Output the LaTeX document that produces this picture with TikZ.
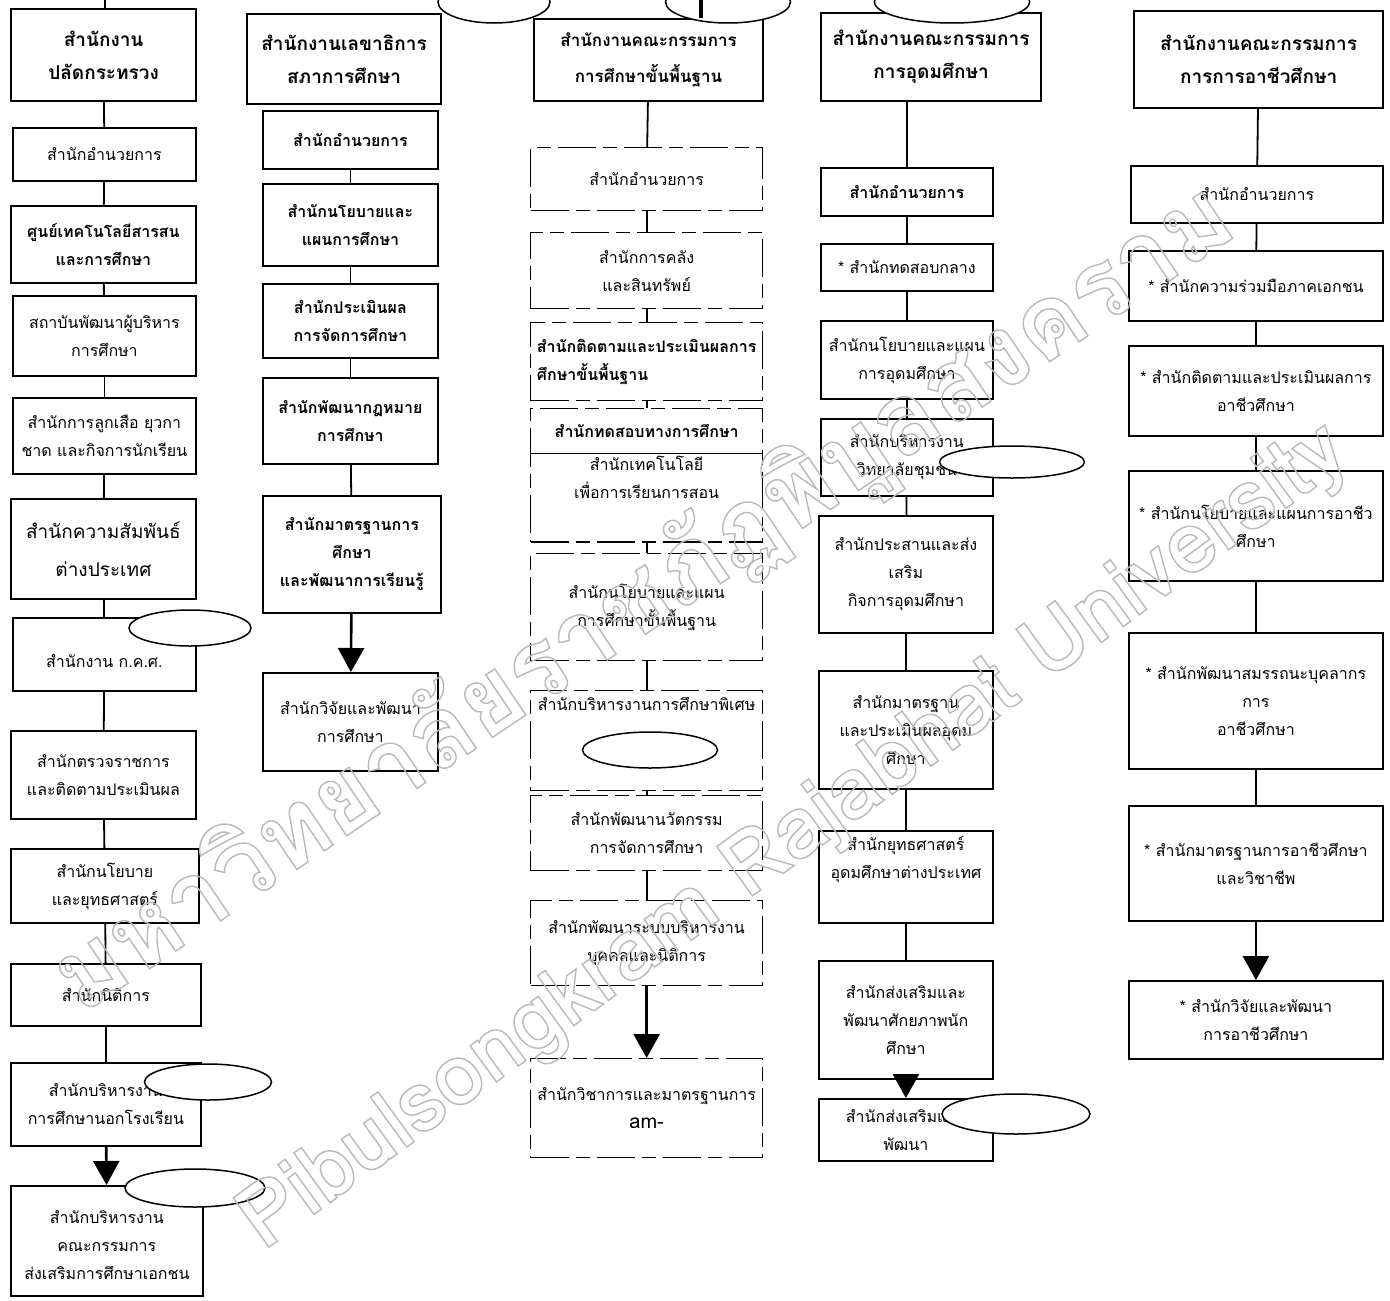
\documentclass[tikz,border=0pt]{standalone}
\usepackage{fontspec}
\setmainfont[Script=Thai]{Loma}
\usepackage{tikz}
\usetikzlibrary{shapes.geometric}
\usetikzlibrary{arrows.meta}
\newcommand{\hollow}[1]{\special{pdf:literal direct q 1 Tr 1.4 w}#1\special{pdf:literal direct Q}}
\tikzstyle{every picture}=[x=1pt,y=-1pt]
\tikzstyle{office}=[rectangle, draw, line width=1.8pt, anchor=north west,
                    inner sep=2pt, align=center, font=\fontsize{16}{28}\selectfont]
\tikzstyle{headbox}=[office, line width=2.2pt, font=\fontsize{19}{33}\selectfont\bfseries]
\tikzstyle{faint}=[office, line width=1.3pt, dash pattern=on 38pt off 7pt on 14pt off 7pt]
\tikzstyle{darktext}=[font=\fontsize{16}{28}\selectfont\bfseries]
\tikzstyle{tagoval}=[ellipse, draw, fill=white, line width=1.5pt, inner sep=0pt]
\tikzstyle{link}=[line width=1.8pt]
\tikzstyle{downarrow}=[line width=2.6pt, -{Triangle[width=26pt,length=24pt]}]
\tikzstyle{wmark}=[text=gray!55, inner sep=0pt]
\tikzset{wh/.style 2 args={minimum width=#1, minimum height=#2}}

\begin{document}
\begin{tikzpicture}
      \path[use as bounding box, fill=white] (0,0) rectangle (1390,1301);

      \node[headbox, wh={185}{92}] (ps) at (10,8) {สำนักงาน\\ปลัดกระทรวง};
      \node[office, wh={183}{53}] (psadmin) at (12,127) {สำนักอำนวยการ};
      \node[office, darktext, wh={185}{77}] (psict) at (10,205) {ศูนย์เทคโนโลยีสารสน\\และการศึกษา};
      \node[office, wh={183}{80}] (psinst) at (12,295) {สถาบันพัฒนาผู้บริหาร\\การศึกษา};
      \node[office, wh={183}{76}] (psscout) at (12,397) {สำนักการลูกเสือ ยุวกา\\ชาด และกิจการนักเรียน};
      \node[office, wh={185}{100}, font=\fontsize{19}{38}\selectfont] (psforeign) at (10,498) {สำนักความสัมพันธ์\\ต่างประเทศ};
      \node[office, wh={183}{73}] (pstc) at (12,617) {\rule{0pt}{26pt}สำนักงาน ก.ค.ศ.};
      \node[office, wh={185}{88}] (psinspect) at (10,730) {สำนักตรวจราชการ\\และติดตามประเมินผล};
      \node[office, wh={188}{74}] (pspolicy) at (10,848) {สำนักนโยบาย\\และยุทธศาสตร์};
      \node[office, wh={190}{62}] (pslegal) at (10,963) {สำนักนิติการ};
      \node[office, wh={190}{83}] (psnonformal) at (10,1062) {สำนักบริหารงาน\\การศึกษานอกโรงเรียน};
      \node[office, wh={192}{110}] (psprivate) at (10,1185) {\rule{0pt}{22pt}สำนักบริหารงาน\\คณะกรรมการ\\ส่งเสริมการศึกษาเอกชน};
      \node[tagoval, minimum width=122, minimum height=36] (pstctag) at (190,628) {};
      \node[tagoval, minimum width=127, minimum height=36] (psnftag) at (208,1082) {};
      \node[tagoval, minimum width=140, minimum height=38] (pspvtag) at (195,1188) {};
      \coordinate (pstop) at (105,0);
	\draw[link] (pstop) -- (pstop |- ps.north);
	\draw[link] (ps) -- (psadmin);
	\draw[link] (psadmin) -- (psict);
	\draw[link] (psict) -- (psinst);
	\draw[link] (psinst) -- (psscout);
	\draw[link] (psscout) -- (psforeign);
	\draw[link] (psforeign) -- (pstc);
	\draw[link] (pstc) -- (psinspect);
	\draw[link] (psinspect) -- (pspolicy);
	\draw[link] (pspolicy) -- (pslegal);
	\draw[link] (pslegal) -- (psnonformal);
	\draw[downarrow] (psnonformal) -- (psprivate);

      \node[headbox, wh={194}{90}] (ec) at (246,13) {สำนักงานเลขาธิการ\\สภาการศึกษา};
      \node[tagoval, minimum width=112, minimum height=42] (ectag) at (494,2) {};
      \node[office, darktext, wh={175}{58}] (ecadmin) at (262,110) {สำนักอำนวยการ};
      \node[office, darktext, wh={175}{82}] (ecplan) at (262,183) {สำนักนโยบายและ\\แผนการศึกษา};
      \node[office, darktext, wh={175}{74}] (eceval) at (262,283) {สำนักประเมินผล\\การจัดการศึกษา};
      \node[office, darktext, wh={175}{86}] (eclaw) at (262,377) {สำนักพัฒนากฎหมาย\\การศึกษา};
      \node[office, darktext, wh={178}{117}] (ecstd) at (262,495) {สำนักมาตรฐานการ\\ศึกษา\\และพัฒนาการเรียนรู้};
      \node[office, wh={175}{98}] (ecresearch) at (262,672) {สำนักวิจัยและพัฒนา\\การศึกษา};
	\draw[link] (ecadmin) -- (ecplan);
	\draw[link] (ecplan) -- (eceval);
	\draw[link] (eceval) -- (eclaw);
	\draw[link] (eclaw) -- (ecstd);
	\draw[downarrow] (ecstd) -- (ecresearch);

      \node[headbox, wh={229}{82}, font=\fontsize{17}{36}\selectfont\bfseries] (obec) at (533,18) {สำนักงานคณะกรรมการ\\การศึกษาขั้นพื้นฐาน};
      \node[tagoval, minimum width=125, minimum height=42] (obectag) at (728,2) {};
      \coordinate (obecbar) at (701,0);
      \node[faint, wh={232}{63}] (obecadmin) at (530,147) {สำนักอำนวยการ};
      \node[faint, wh={232}{76}] (obecfin) at (530,232) {สำนักการคลัง\\และสินทรัพย์};
      \node[faint, darktext, align=left, wh={232}{78}] (obeceval) at (530,322) {สำนักติดตามและประเมินผลการ\\ศึกษาขั้นพื้นฐาน};
      \node[faint, darktext, wh={232}{45}] (obectest) at (530,408) {สำนักทดสอบทางการศึกษา};
      \node[faint, wh={232}{82}] (obectech) at (530,453) {สำนักเทคโนโลยี\\เพื่อการเรียนการสอน\\[14pt]\mbox{}};
      \node[faint, wh={232}{107}] (obecplan) at (530,553) {สำนักนโยบายและแผน\\การศึกษาขั้นพื้นฐาน};
      \node[faint, wh={232}{100}] (obecspecial) at (530,690) {สำนักบริหารงานการศึกษาพิเศษ\\[46pt]\mbox{}};
      \node[tagoval, minimum width=135, minimum height=36] (obecsptag) at (650,750) {};
      \node[faint, wh={232}{75}] (obecinnov) at (530,795) {สำนักพัฒนานวัตกรรม\\การจัดการศึกษา};
      \node[faint, wh={232}{85}] (obechr) at (530,900) {สำนักพัฒนาระบบบริหารงาน\\บุคคลและนิติการ};
      \node[faint, wh={232}{99}] (obecacad) at (530,1058) {สำนักวิชาการและมาตรฐานการ\\{\fontsize{20}{28}\selectfont am-}};
	\draw[line width=4pt] (obecbar) -- ++(0,18);
	\draw[link] (obec) -- (obecadmin);
	\draw[link] (obecadmin) -- (obecfin);
	\draw[link] (obecfin) -- (obeceval);
	\draw[link] (obeceval) -- (obectest);
	\draw[link] (obectech) -- (obecplan);
	\draw[link] (obecplan) -- (obecspecial);
	\draw[link] (obecspecial) -- (obecinnov);
	\draw[link] (obecinnov) -- (obechr);
	\draw[downarrow] (obechr) -- (obecacad);

      \node[headbox, wh={220}{88}] (ohec) at (820,12) {สำนักงานคณะกรรมการ\\การอุดมศึกษา};
      \node[tagoval, minimum width=155, minimum height=42] (ohectag) at (952,2) {};
      \node[office, darktext, wh={172}{48}] (ohecadmin) at (820,167) {สำนักอำนวยการ};
      \node[office, wh={172}{47}] (ohectest) at (820,243) {* สำนักทดสอบกลาง};
      \node[office, wh={172}{78}] (ohecplan) at (820,320) {สำนักนโยบายและแผน\\การอุดมศึกษา};
      \node[office, wh={172}{77}] (ohecccc) at (820,418) {สำนักบริหารงาน\\วิทยาลัยชุมชน};
      \node[tagoval, minimum width=145, minimum height=32] (oheccctag) at (1012,462) {};
      \node[office, wh={174}{117}] (ohecprom) at (818,515) {สำนักประสานและส่ง\\เสริม\\กิจการอุดมศึกษา};
      \node[office, wh={174}{118}] (ohecstd) at (818,670) {สำนักมาตรฐาน\\และประเมินผลอุดม\\ศึกษา};
      \node[office, wh={174}{92}] (ohecinter) at (818,830) {สำนักยุทธศาสตร์\\อุดมศึกษาต่างประเทศ\\[10pt]\mbox{}};
      \node[office, wh={174}{118}] (ohecstudent) at (818,960) {สำนักส่งเสริมและ\\พัฒนาศักยภาพนัก\\ศึกษา};
      \node[office, wh={174}{62}] (ohecdev) at (818,1098) {สำนักส่งเสริมและ\\พัฒนา};
      \node[tagoval, minimum width=148, minimum height=40] (ohecdevtag) at (1016,1114) {};
	\draw[link] (ohec.south -| ohecadmin) -- (ohecadmin);
	\draw[link] (ohecadmin) -- (ohectest);
	\draw[link] (ohectest) -- (ohecplan);
	\draw[link] (ohecplan) -- (ohecccc);
	\draw[link] (ohecccc) -- (ohecprom);
	\draw[link] (ohecprom) -- (ohecstd);
	\draw[link] (ohecstd) -- (ohecinter);
	\draw[link] (ohecinter) -- (ohecstudent);
	\draw[downarrow] (ohecstudent) -- (ohecdev);

      \node[headbox, wh={249}{97}] (ovec) at (1133,10) {สำนักงานคณะกรรมการ\\การการอาชีวศึกษา};
      \node[office, wh={252}{57}] (ovecadmin) at (1130,165) {สำนักอำนวยการ};
      \node[office, wh={254}{70}] (ovecpartner) at (1128,250) {* สำนักความร่วมมือภาคเอกชน};
      \node[office, wh={254}{90}] (ovecmonitor) at (1128,345) {* สำนักติดตามและประเมินผลการ\\อาชีวศึกษา};
      \node[office, wh={254}{110}] (ovecplan) at (1128,470) {* สำนักนโยบายและแผนการอาชีว\\ศึกษา};
      \node[office, wh={254}{136}] (ovecstaff) at (1128,632) {* สำนักพัฒนาสมรรถนะบุคลากร\\การ\\อาชีวศึกษา};
      \node[office, wh={254}{115}] (ovecstd) at (1128,805) {* สำนักมาตรฐานการอาชีวศึกษา\\และวิชาชีพ};
      \node[office, wh={254}{78}] (ovecresearch) at (1128,980) {* สำนักวิจัยและพัฒนา\\การอาชีวศึกษา};
	\draw[link] (ovec) -- (ovecadmin);
	\draw[link] (ovecadmin) -- (ovecpartner);
	\draw[link] (ovecpartner) -- (ovecmonitor);
	\draw[link] (ovecmonitor) -- (ovecplan);
	\draw[link] (ovecplan) -- (ovecstaff);
	\draw[link] (ovecstaff) -- (ovecstd);
	\draw[downarrow] (ovecstd) -- (ovecresearch);

      \node[wmark, rotate=34, font=\fontsize{100}{100}\selectfont\bfseries] (wmthai) at (645,600) {\hollow{มหาวิทยาลัยราชภัฏพิบูลสงคราม}};
      \node[wmark, rotate=36, font=\fontsize{86}{86}\selectfont\bfseries] (wmlatin) at (795,838) {\hollow{Pibulsongkram Rajabhat University}};
    \end{tikzpicture}
\end{document}
